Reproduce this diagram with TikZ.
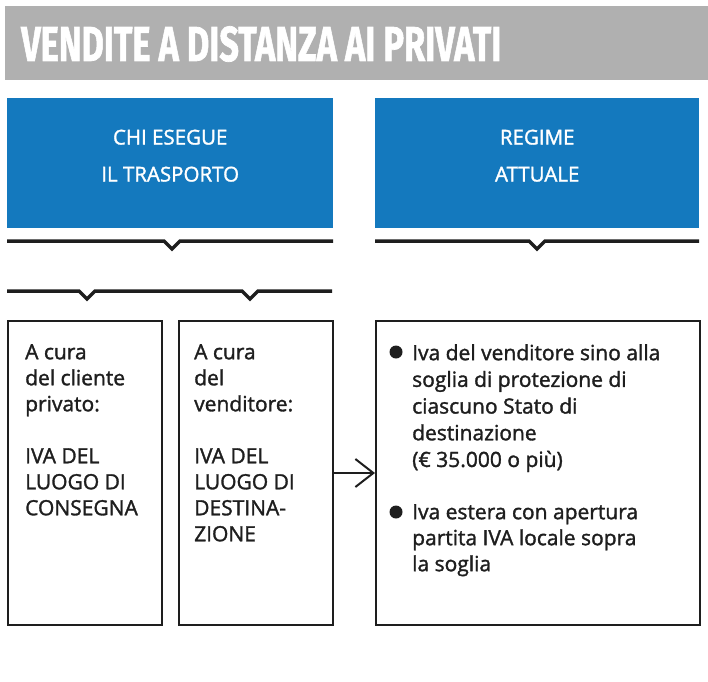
\documentclass[tikz,border=0pt]{standalone}
\usepackage{fontspec}
\setmainfont{Open Sans}
\newfontfamily\titlefont{Fira Sans}[FakeBold=1.5]
\newfontfamily\bodyfont{Open Sans}[FakeBold=1.5]
\usetikzlibrary{positioning}
\usetikzlibrary{arrows.meta}

\definecolor{titlegray}{HTML}{B0B0B0}
\definecolor{headblue}{HTML}{1479BE}
\definecolor{ink}{HTML}{1E1E1E}

\tikzset{
    headbox/.style={fill=headblue, anchor=north west, minimum width=326pt, minimum height=130pt},
    headtext/.style={text=white, align=center, inner sep=0pt, font=\bodyfont\fontsize{20.5}{37}\selectfont},
    framebox/.style={draw=ink, line width=2pt, anchor=north west, minimum width=154pt, minimum height=304pt},
    boxtext/.style={anchor=north west, align=left, inner sep=0pt, text=ink, font=\bodyfont\fontsize{21}{26}\selectfont},
    bracket/.style={draw=ink, line width=3.5pt},
    dot/.style={circle, fill=ink, inner sep=0pt, minimum size=13pt},
}

\begin{document}
\begin{tikzpicture}[x=1pt, y=-1pt]
        \useasboundingbox (0,0) rectangle (708,681);

        % title bar
        \fill[titlegray] (5,6) rectangle (708,80);
        \node[anchor=west, inner sep=0pt, text=white] (title) at (21,44) {\scalebox{0.7}[1]{\titlefont\fontsize{49}{50}\selectfont\bfseries VENDITE A DISTANZA AI PRIVATI}};

        % headers
        \node[headbox] (who) at (7,98) {};
        \node[headtext, yshift=7.5pt] (who text) at (who.center) {CHI ESEGUE\\IL TRASPORTO};
        \node[headbox, minimum width=324pt] (regime) at (375,98) {};
        \node[headtext, yshift=7.5pt] (regime text) at (regime.center) {REGIME\\ATTUALE};

        % brackets
        \draw[bracket] (7,241) -- (164,241) -- (172,249) -- (180,241) -- (333,241);
        \draw[bracket] (375,241) -- (529,241) -- (537,249) -- (545,241) -- (699,241);
        \draw[bracket] (7,291) -- (79,291) -- (87,299) -- (95,291) -- (242,291) -- (250,299) -- (258,291) -- (332,291);

        % boxes
        \node[framebox] (client) at (7,320) {};
        \node[framebox] (seller) at (178,320) {};
        \node[framebox, minimum width=324pt] (now) at (375,320) {};

        \node[boxtext] (client text) at (25,344) {A cura\\del cliente\\privato:\\[26pt]IVA DEL\\LUOGO DI\\CONSEGNA};
        \node[boxtext] (seller text) at (194,344) {A cura\\del\\venditore:\\[26pt]IVA DEL\\LUOGO DI\\DESTINA-\\ZIONE};

        \node[dot] (dot1) at (396,352) {};
        \node[boxtext, font=\bodyfont\fontsize{21}{26.7}\selectfont] (rule1) at (412,344) {Iva del venditore sino alla\\soglia di protezione di\\ciascuno Stato di\\destinazione\\(€ 35.000 o più)};
        \node[dot] (dot2) at (396,512) {};
        \node[boxtext] (rule2) at (412,504) {Iva estera con apertura\\partita IVA locale sopra\\la soglia};

        \draw[ink, line width=2pt, -{Straight Barb[length=18pt, width=28pt, line width=2pt]}] (seller.east) -- (now.west);
    \end{tikzpicture}
\end{document}
